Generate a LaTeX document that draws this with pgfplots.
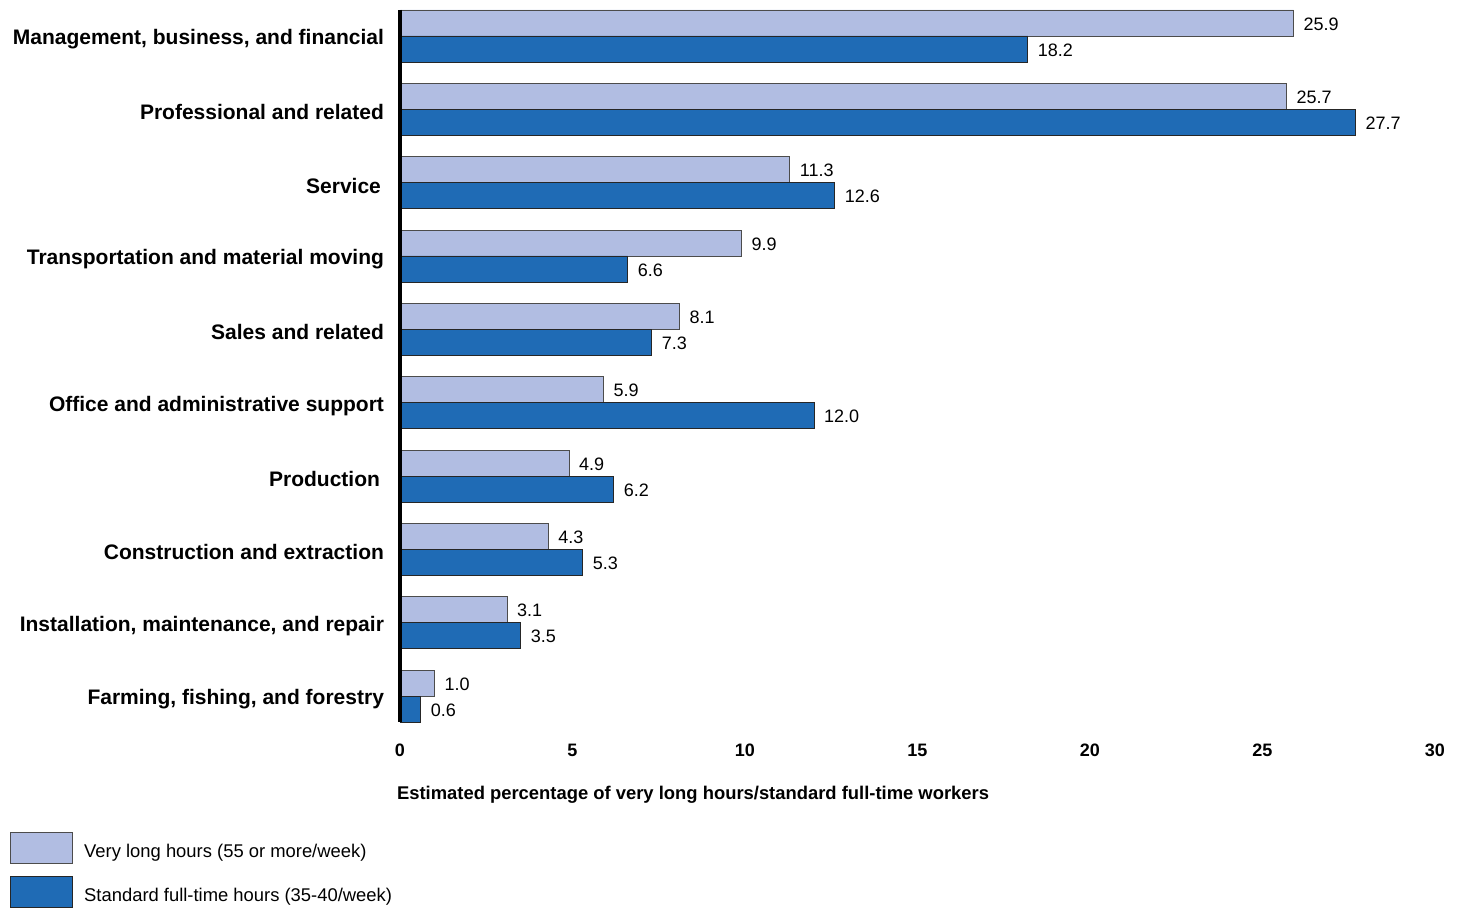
\documentclass[border=0pt]{standalone}
\usepackage{pgfplots}
\pgfplotsset{compat=1.18}
\usepackage{fontspec}
\setmainfont{Liberation Sans}
\definecolor{lightbar}{RGB}{177,189,226}
\definecolor{darkbar}{RGB}{31,107,181}
\begin{document}
\begin{tikzpicture}
\begin{axis}[
  scale only axis,
  width=517.5pt, height=356pt,
  xbar, y dir=reverse,
  xmin=0, xmax=30,
  ymin=-0.354, ymax=9.354,
  bar width=0.354,
  axis on top,
  axis y line*=left,
  axis x line*=bottom,
  x axis line style={draw=none},
  y axis line style={line width=2pt, black},
  xtick={0,5,10,15,20,25,30},
  ytick={0,1,2,3,4,5,6,7,8,9},
  yticklabels={Management{,} business{,} and financial, Professional and related, Service\kern1.5pt, Transportation and material moving, Sales and related, Office and administrative support, Production\kern2pt, Construction and extraction, {Installation, maintenance, and repair}, {Farming, fishing, and forestry}},
  major tick length=0pt,
  /pgf/number format/assume math mode=true,
  xticklabel style={font=\fontsize{9pt}{11pt}\selectfont\bfseries, yshift=-7.5pt},
  yticklabel style={font=\fontsize{10.5pt}{12pt}\selectfont\bfseries, xshift=-4.5pt, yshift=-1.5pt},
  xlabel={Estimated percentage of very long hours/standard full-time workers},
  xlabel style={font=\fontsize{9.2pt}{11pt}\selectfont\bfseries, at={(axis description cs:0,0)}, anchor=north west, xshift=-5pt, yshift=-28.5pt},
  nodes near coords,
  nodes near coords style={font=\fontsize{9pt}{11pt}\selectfont, /pgf/number format/fixed, /pgf/number format/fixed zerofill, /pgf/number format/precision=1, /pgf/number format/assume math mode=true},
  every node near coord/.append style={anchor=west, xshift=1.5pt, yshift=-0.5pt},
  legend cell align=left,
  legend style={draw=none, fill=none, inner sep=0pt, at={(-0.3768,-0.1545)}, anchor=north west, font=\fontsize{9.2pt}{11pt}\selectfont, row sep=6pt, /tikz/every odd column/.append style={column sep=3.5pt}},
  legend image code/.code={\draw[#1] (0pt,-5.75pt) rectangle (31pt,9.75pt);},
  clip=false,
]
\addplot[fill=lightbar, draw=black!70, bar shift=-0.177] coordinates {
(25.9,0) (25.7,1) (11.3,2) (9.9,3) (8.1,4) (5.9,5) (4.9,6) (4.3,7) (3.1,8) (1.0,9)};
\addplot[fill=darkbar, draw=black!85, bar shift=0.177] coordinates {
(18.2,0) (27.7,1) (12.6,2) (6.6,3) (7.3,4) (12.0,5) (6.2,6) (5.3,7) (3.5,8) (0.6,9)};
\legend{Very long hours (55 or more/week), Standard full-time hours (35-40/week)}
\end{axis}
\pgfresetboundingbox
\path[use as bounding box] ([xshift=-200pt,yshift=361pt]current axis.south west) rectangle ([xshift=531.5pt,yshift=-93pt]current axis.south west);
\end{tikzpicture}
\end{document}
